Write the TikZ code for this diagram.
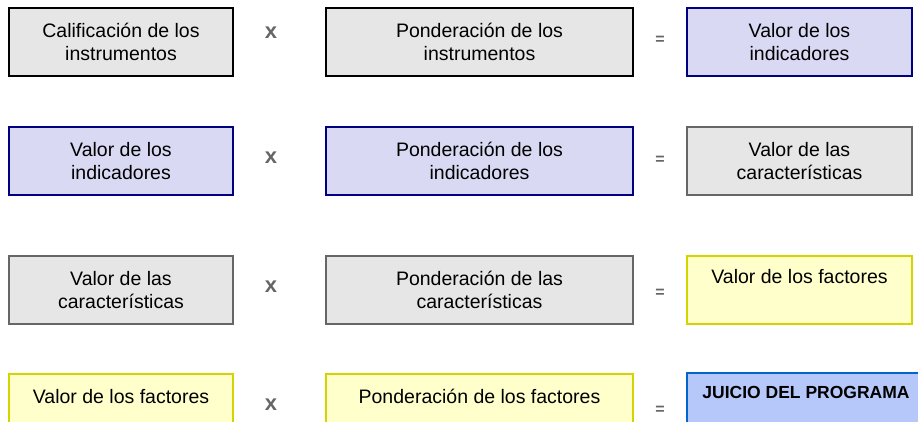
\documentclass[tikz,border=0pt]{standalone}
\usepackage{fontspec}
\setmainfont{Liberation Sans}
\definecolor{grayfill}{HTML}{E6E6E6}
\definecolor{grayline}{HTML}{666666}
\definecolor{bluefill}{HTML}{D9D9F3}
\definecolor{blueline}{HTML}{000080}
\definecolor{yelfill}{HTML}{FFFFCC}
\definecolor{yelline}{HTML}{D4D400}
\definecolor{jfill}{HTML}{B6C8FA}
\definecolor{jline}{HTML}{0066CC}
\definecolor{opcol}{HTML}{666666}
\begin{document}
\begin{tikzpicture}[x=1pt,y=-1pt,
  box/.style={rectangle, line width=2pt, inner sep=0pt, align=center,
    font=\fontsize{19.5}{23}\selectfont},
  colA/.style={minimum width=224pt, minimum height=68pt},
  colB/.style={minimum width=307pt, minimum height=68pt},
  colC/.style={minimum width=225pt, minimum height=68pt},
  graybk/.style={box, draw=black, fill=grayfill},
  graygr/.style={box, draw=grayline, fill=grayfill},
  bluebox/.style={box, draw=blueline, fill=bluefill},
  yelbox/.style={box, draw=yelline, fill=yelfill},
  jbox/.style={box, draw=jline, fill=jfill},
  toptext/.style={anchor=base, inner sep=0pt, font=\fontsize{19.5}{23}\selectfont},
  optimes/.style={text=opcol, font=\bfseries\fontsize{22}{26}\selectfont, inner sep=0pt},
  opeq/.style={text=opcol, font=\bfseries\fontsize{16}{19}\selectfont, inner sep=0pt}]
\useasboundingbox (0,0) rectangle (918,421);
\clip (0,0) rectangle (918,421);
% Row 1
\node[graybk, colA, line width=2.4pt] (a1) at (121,42) {Calificación de los\\instrumentos};
\node[optimes] (x1) at (271,33) {x};
\node[graybk, colB, line width=2.4pt] (b1) at (479.5,42) {Ponderación de los\\instrumentos};
\node[opeq] (e1) at (660,40) {=};
\node[bluebox, colC] (c1) at (799.5,42) {Valor de los\\indicadores};
% Row 2
\node[bluebox, colA] (a2) at (121,161) {Valor de los\\indicadores};
\node[optimes] (x2) at (271,158) {x};
\node[bluebox, colB] (b2) at (479.5,161) {Ponderación de los\\indicadores};
\node[opeq] (e2) at (660,160) {=};
\node[graygr, colC] (c2) at (799.5,161) {Valor de las\\características};
% Row 3
\node[graygr, colA] (a3) at (121,290) {Valor de las\\características};
\node[optimes] (x3) at (271,287) {x};
\node[graygr, colB] (b3) at (479.5,290) {Ponderación de las\\características};
\node[opeq] (e3) at (660,293) {=};
\node[yelbox, colC] (c3) at (799.5,290) {};
\node[toptext] (c3t) at (799.5,283) {Valor de los factores};
% Row 4
\node[yelbox, colA] (a4) at (121,408) {};
\node[toptext] (a4t) at (121,403) {Valor de los factores};
\node[optimes] (x4) at (271,405) {x};
\node[yelbox, colB] (b4) at (479.5,408) {};
\node[toptext] (b4t) at (479.5,403) {Ponderación de los factores};
\node[opeq] (e4) at (660,410.5) {=};
\node[jbox, minimum width=235pt, minimum height=68pt] (c4) at (804.5,407) {};
\node[toptext, font=\bfseries\fontsize{17.5}{21}\selectfont] (c4t) at (806,398) {JUICIO DEL PROGRAMA};
\end{tikzpicture}
\end{document}
